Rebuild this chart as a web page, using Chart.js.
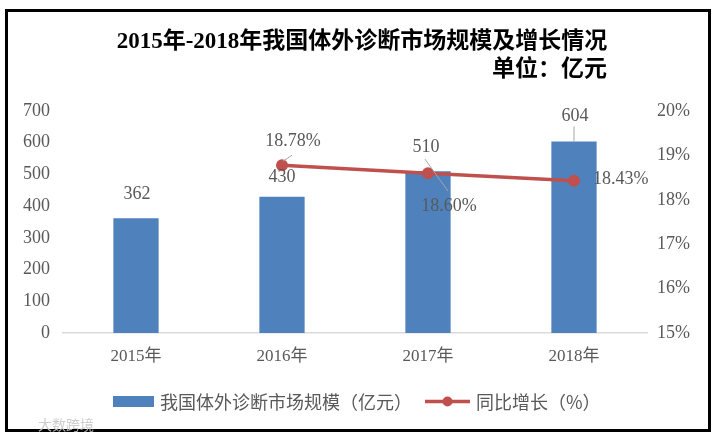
<!DOCTYPE html>
<html>
<head>
<meta charset="utf-8">
<script src="https://cdn.jsdelivr.net/npm/chart.js@4.4.0/dist/chart.umd.min.js"></script>
<style>
  html, body { margin: 0; padding: 0; background: #fff; }
  canvas { display: block; }
</style>
</head>
<body>
<canvas id="c" width="719" height="441"></canvas>
<script>
// ---- data ----
const categories = ['2015年', '2016年', '2017年', '2018年'];
const marketSize = [362, 430, 510, 604];          // 亿元
const growthRate = [null, 18.78, 18.60, 18.43];   // %
const leftTicks = [0, 100, 200, 300, 400, 500, 600, 700];
const rightTicks = [15, 16, 17, 18, 19, 20];
const titleText = '2015年-2018年我国体外诊断市场规模及增长情况';
const unitText = '单位：亿元';
const seriesNames = ['我国体外诊断市场规模（亿元）', '同比增长（%）'];

// ---- styles ----
const BLUE = '#4F81BD';
const RED = '#C0504D';
const GRAY = '#595959';
const SERIF = "'Liberation Serif', 'Times New Roman', 'Noto Sans CJK SC', serif";
const SANS = "'Noto Sans CJK SC', 'Noto Sans', sans-serif";

// label placement styles (offsets relative to the mark)
const barLabelStyle = [
  { dx: 1, dy: -24 },
  { dx: 0, dy: -19 },
  { dx: -2, dy: -24 },
  { dx: 1, dy: -25, leader: true }
];
const lineLabelStyle = [
  null,
  { dx: 11, dy: -24, align: 'center', lead: [1, -4, 10, -10] },
  { dx: 21, dy: 33, align: 'center', lead: [-3, -14, 20, 18] },
  { dx: 19, dy: -1, align: 'left' }
];

const overlay = {
  id: 'overlay',
  afterDatasetsDraw(chart) {
    const ctx = chart.ctx;
    ctx.save();
    ctx.font = '18px ' + SERIF;
    ctx.fillStyle = GRAY;
    ctx.textBaseline = 'middle';
    const barMeta = chart.getDatasetMeta(1);
    barMeta.data.forEach((el, i) => {
      const s = barLabelStyle[i];
      const x = el.x + s.dx, y = el.y + s.dy;
      ctx.textAlign = 'center';
      ctx.fillText(String(marketSize[i]), x, y);
      if (s.leader) {
        ctx.strokeStyle = '#a6a6a6';
        ctx.lineWidth = 1;
        ctx.beginPath();
        ctx.moveTo(el.x, y + 10);
        ctx.lineTo(el.x, el.y);
        ctx.stroke();
      }
    });
    const lineMeta = chart.getDatasetMeta(0);
    lineMeta.data.forEach((el, i) => {
      const s = lineLabelStyle[i];
      if (!s || growthRate[i] == null) return;
      if (s.lead) {
        ctx.strokeStyle = '#a6a6a6';
        ctx.lineWidth = 1;
        ctx.beginPath();
        ctx.moveTo(el.x + s.lead[0], el.y + s.lead[1]);
        ctx.lineTo(el.x + s.lead[2], el.y + s.lead[3]);
        ctx.stroke();
      }
      ctx.textAlign = s.align;
      ctx.fillStyle = GRAY;
      ctx.fillText(growthRate[i].toFixed(2) + '%', el.x + s.dx, el.y + s.dy);
    });
    ctx.restore();
  },
  afterDraw(chart) {
    const ctx = chart.ctx;
    ctx.save();
    // frame
    ctx.strokeStyle = '#000';
    ctx.lineWidth = 3;
    ctx.strokeRect(6.5, 10.5, 703, 420);
    // title
    ctx.fillStyle = '#000';
    ctx.textBaseline = 'middle';
    ctx.font = 'bold 23px ' + SERIF;
    ctx.textAlign = 'center';
    ctx.fillText(titleText, 362, 42);
    ctx.textAlign = 'right';
    ctx.fillText(unitText, 607, 70);
    // legend
    ctx.font = '18px ' + SANS;
    ctx.fillStyle = BLUE;
    ctx.fillRect(113, 396, 41, 11);
    ctx.fillStyle = GRAY;
    ctx.textAlign = 'left';
    ctx.fillText(seriesNames[0], 160, 402);
    ctx.strokeStyle = RED;
    ctx.lineWidth = 3.5;
    ctx.beginPath();
    ctx.moveTo(425, 401.5);
    ctx.lineTo(470, 401.5);
    ctx.stroke();
    ctx.fillStyle = RED;
    ctx.beginPath();
    ctx.arc(447.5, 401.5, 5, 0, Math.PI * 2);
    ctx.fill();
    ctx.fillStyle = GRAY;
    ctx.fillText(seriesNames[1], 476, 402);
    // watermark
    ctx.font = '14px ' + SANS;
    ctx.fillStyle = 'rgba(200,200,200,0.9)';
    ctx.fillText('大数跨境', 38, 425);
    ctx.restore();
  }
};

new Chart(document.getElementById('c'), {
  type: 'bar',
  data: {
    labels: categories,
    datasets: [
      {
        type: 'line',
        label: seriesNames[1],
        data: growthRate,
        yAxisID: 'y1',
        borderColor: RED,
        backgroundColor: RED,
        borderWidth: 3.5,
        pointRadius: 6,
        pointBackgroundColor: RED,
        pointBorderColor: RED,
        pointBorderWidth: 0,
        spanGaps: false,
        tension: 0,
        order: 0
      },
      {
        type: 'bar',
        label: seriesNames[0],
        data: marketSize,
        yAxisID: 'y',
        backgroundColor: BLUE,
        borderWidth: 0,
        barPercentage: 0.31,
        categoryPercentage: 1.0,
        order: 1
      }
    ]
  },
  options: {
    responsive: false,
    animation: false,
    devicePixelRatio: 1,
    layout: { padding: { top: 111, bottom: 0, left: 0, right: 0 } },
    plugins: {
      legend: { display: false },
      title: { display: false },
      tooltip: { enabled: false }
    },
    scales: {
      x: {
        offset: true,
        grid: { display: false, drawTicks: false },
        border: { display: true, color: '#D9D9D9', width: 1.5 },
        ticks: { color: GRAY, font: { family: SERIF, size: 17 }, padding: 13 },
        afterFit(s) { s.height = 108; }
      },
      y: {
        position: 'left',
        min: 0, max: 700,
        afterBuildTicks(s) { s.ticks = leftTicks.map(v => ({ value: v })); },
        grid: { display: false, drawTicks: false },
        border: { display: false },
        ticks: { color: GRAY, font: { family: SERIF, size: 18 }, padding: 13 },
        afterFit(s) { s.width = 63; }
      },
      y1: {
        position: 'right',
        min: 15, max: 20,
        afterBuildTicks(s) { s.ticks = rightTicks.map(v => ({ value: v })); },
        grid: { display: false, drawTicks: false },
        border: { display: false },
        ticks: { color: GRAY, font: { family: SERIF, size: 18 }, padding: 10, callback: v => v + '%' },
        afterFit(s) { s.width = 72; }
      }
    }
  },
  plugins: [overlay]
});
</script>
</body>
</html>
